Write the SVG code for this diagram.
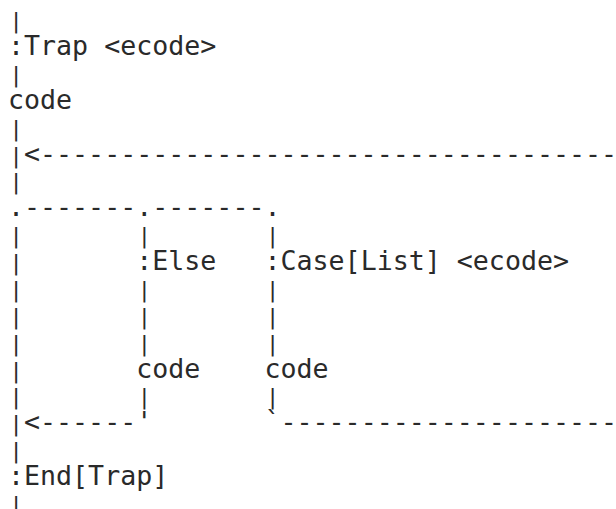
<svg xmlns="http://www.w3.org/2000/svg" width="616" height="509" viewBox="0 0 616 509">
<style>
text{font-family:"DejaVu Sans Mono","Liberation Mono",monospace;fill:#2a2a2a;white-space:pre}
.lbl,.dash{font-size:26.63px}
.bar{font-size:22px;letter-spacing:2.79px}
</style>
<rect width="616" height="509" fill="#ffffff"/>
<g id="connectors" xml:space="preserve">
<text class="bar" x="9.38" y="28.1">|</text>
<text class="bar" x="9.38" y="81.9">|</text>
<text class="bar" x="9.38" y="135.6">|</text>
<text class="bar" x="9.38" y="162.5">|</text>
<text class="dash" x="24.01" y="162.5">&lt;------------------------------------</text>
<text class="bar" x="9.38" y="189.4">|</text>
<text class="dash" x="7.98" y="216.25">.-------.-------.</text>
<text class="bar" x="9.38" y="243.1">|       |       |</text>
<text class="bar" x="9.38" y="270">|</text>
<text class="bar" x="9.38" y="296.9">|       |       |</text>
<text class="bar" x="9.38" y="323.75">|       |       |</text>
<text class="bar" x="9.38" y="350.6">|       |       |</text>
<text class="bar" x="9.38" y="377.5">|</text>
<text class="bar" x="9.38" y="404.4">|       |       |</text>
<text class="bar" x="9.38" y="431.25">|</text>
<text class="dash" x="24.01" y="431.25">&lt;------'</text>
<text class="dash" x="264.46" y="431.25">`---------------------</text>
<text class="bar" x="9.38" y="458.1">|</text>
<text class="bar" x="9.38" y="511.9">|</text>
</g>
<g id="n_trap"><text class="lbl" x="7.98" y="55">:Trap &lt;ecode&gt;</text></g>
<g id="n_code1"><text class="lbl" x="7.98" y="108.75">code</text></g>
<g id="n_else"><text class="lbl" x="136.22" y="270">:Else</text></g>
<g id="n_case"><text class="lbl" x="264.46" y="270">:Case[List] &lt;ecode&gt;</text></g>
<g id="n_code2"><text class="lbl" x="136.22" y="377.5">code</text></g>
<g id="n_code3"><text class="lbl" x="264.46" y="377.5">code</text></g>
<g id="n_end"><text class="lbl" x="7.98" y="485">:End[Trap]</text></g>
</svg>
